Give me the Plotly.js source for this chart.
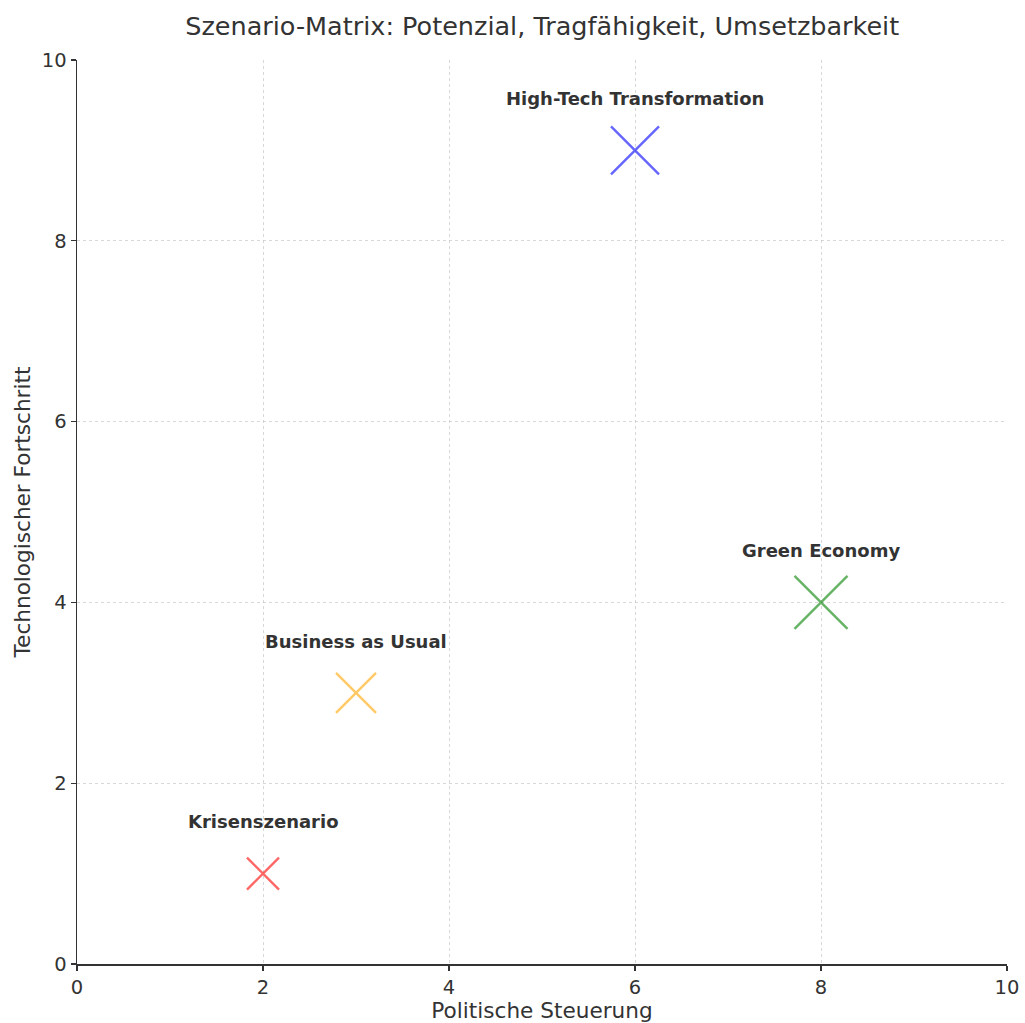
<!DOCTYPE html>
<html>
<head>
<meta charset="utf-8">
<script src="https://cdn.plot.ly/plotly-3.0.1.min.js"></script>
<style>
  html, body { margin: 0; padding: 0; background: #fff; }
  #chart { width: 1025px; height: 1023px; }
</style>
</head>
<body>
<div id="chart"></div>
<script>
// Scenarios placed by political steering (x) and technological progress (y)
const scenarios = ["High-Tech Transformation", "Green Economy", "Business as Usual", "Krisenszenario"];
const steering = [6, 8, 3, 2];
const techProgress = [9, 4, 3, 1];
// Marker size reflects implementability
const feasibility = [48, 53, 40, 32];
const colors = ["rgba(0,0,255,0.6)", "rgba(0,128,0,0.6)", "rgba(255,165,0,0.6)", "rgba(255,0,0,0.6)"];

const traces = scenarios.map((name, i) => ({
  type: "scatter",
  mode: "markers",
  name: name,
  x: [steering[i]],
  y: [techProgress[i]],
  marker: {
    symbol: "x-thin",
    size: feasibility[i],
    color: colors[i],
    line: { color: colors[i], width: 2.4 }
  },
  hoverinfo: "name"
}));

const annotations = scenarios.map((name, i) => ({
  x: steering[i],
  y: techProgress[i] + 0.5,
  xref: "x",
  yref: "y",
  text: "<b>" + name + "</b>",
  showarrow: false,
  xanchor: "center",
  yanchor: "bottom",
  yshift: -6,
  font: { family: "DejaVu Sans", size: 18, color: "#333333" }
}));

const axisCommon = {
  range: [0, 10],
  dtick: 2,
  tick0: 0,
  showgrid: true,
  gridcolor: "rgba(190,190,190,0.6)",
  griddash: "3px,3px",
  gridwidth: 1,
  zeroline: false,
  showline: true,
  linecolor: "#333333",
  linewidth: 1.5,
  ticks: "outside",
  ticklen: 5,
  tickwidth: 1.3,
  tickcolor: "#333333",
  tickfont: { family: "DejaVu Sans", size: 19.5, color: "#333333" },
  fixedrange: true
};

const layout = {
  width: 1025,
  height: 1023,
  margin: { l: 77, r: 18, t: 60, b: 59 },
  paper_bgcolor: "#ffffff",
  plot_bgcolor: "#ffffff",
  showlegend: false,
  title: {
    text: "Szenario-Matrix: Potenzial, Tragfähigkeit, Umsetzbarkeit",
    font: { family: "DejaVu Sans", size: 25.5, color: "#333333" },
    x: 0.529,
    xanchor: "center",
    y: 0.975,
    yanchor: "middle"
  },
  xaxis: Object.assign({}, axisCommon, {
    title: { text: "Politische Steuerung", font: { family: "DejaVu Sans", size: 21.6, color: "#333333" }, standoff: 6 }
  }),
  yaxis: Object.assign({}, axisCommon, {
    title: { text: "Technologischer Fortschritt", font: { family: "DejaVu Sans", size: 21.6, color: "#333333" }, standoff: 5 }
  }),
  annotations: annotations
};

Plotly.newPlot("chart", traces, layout, { displayModeBar: false, staticPlot: true });
</script>
</body>
</html>
